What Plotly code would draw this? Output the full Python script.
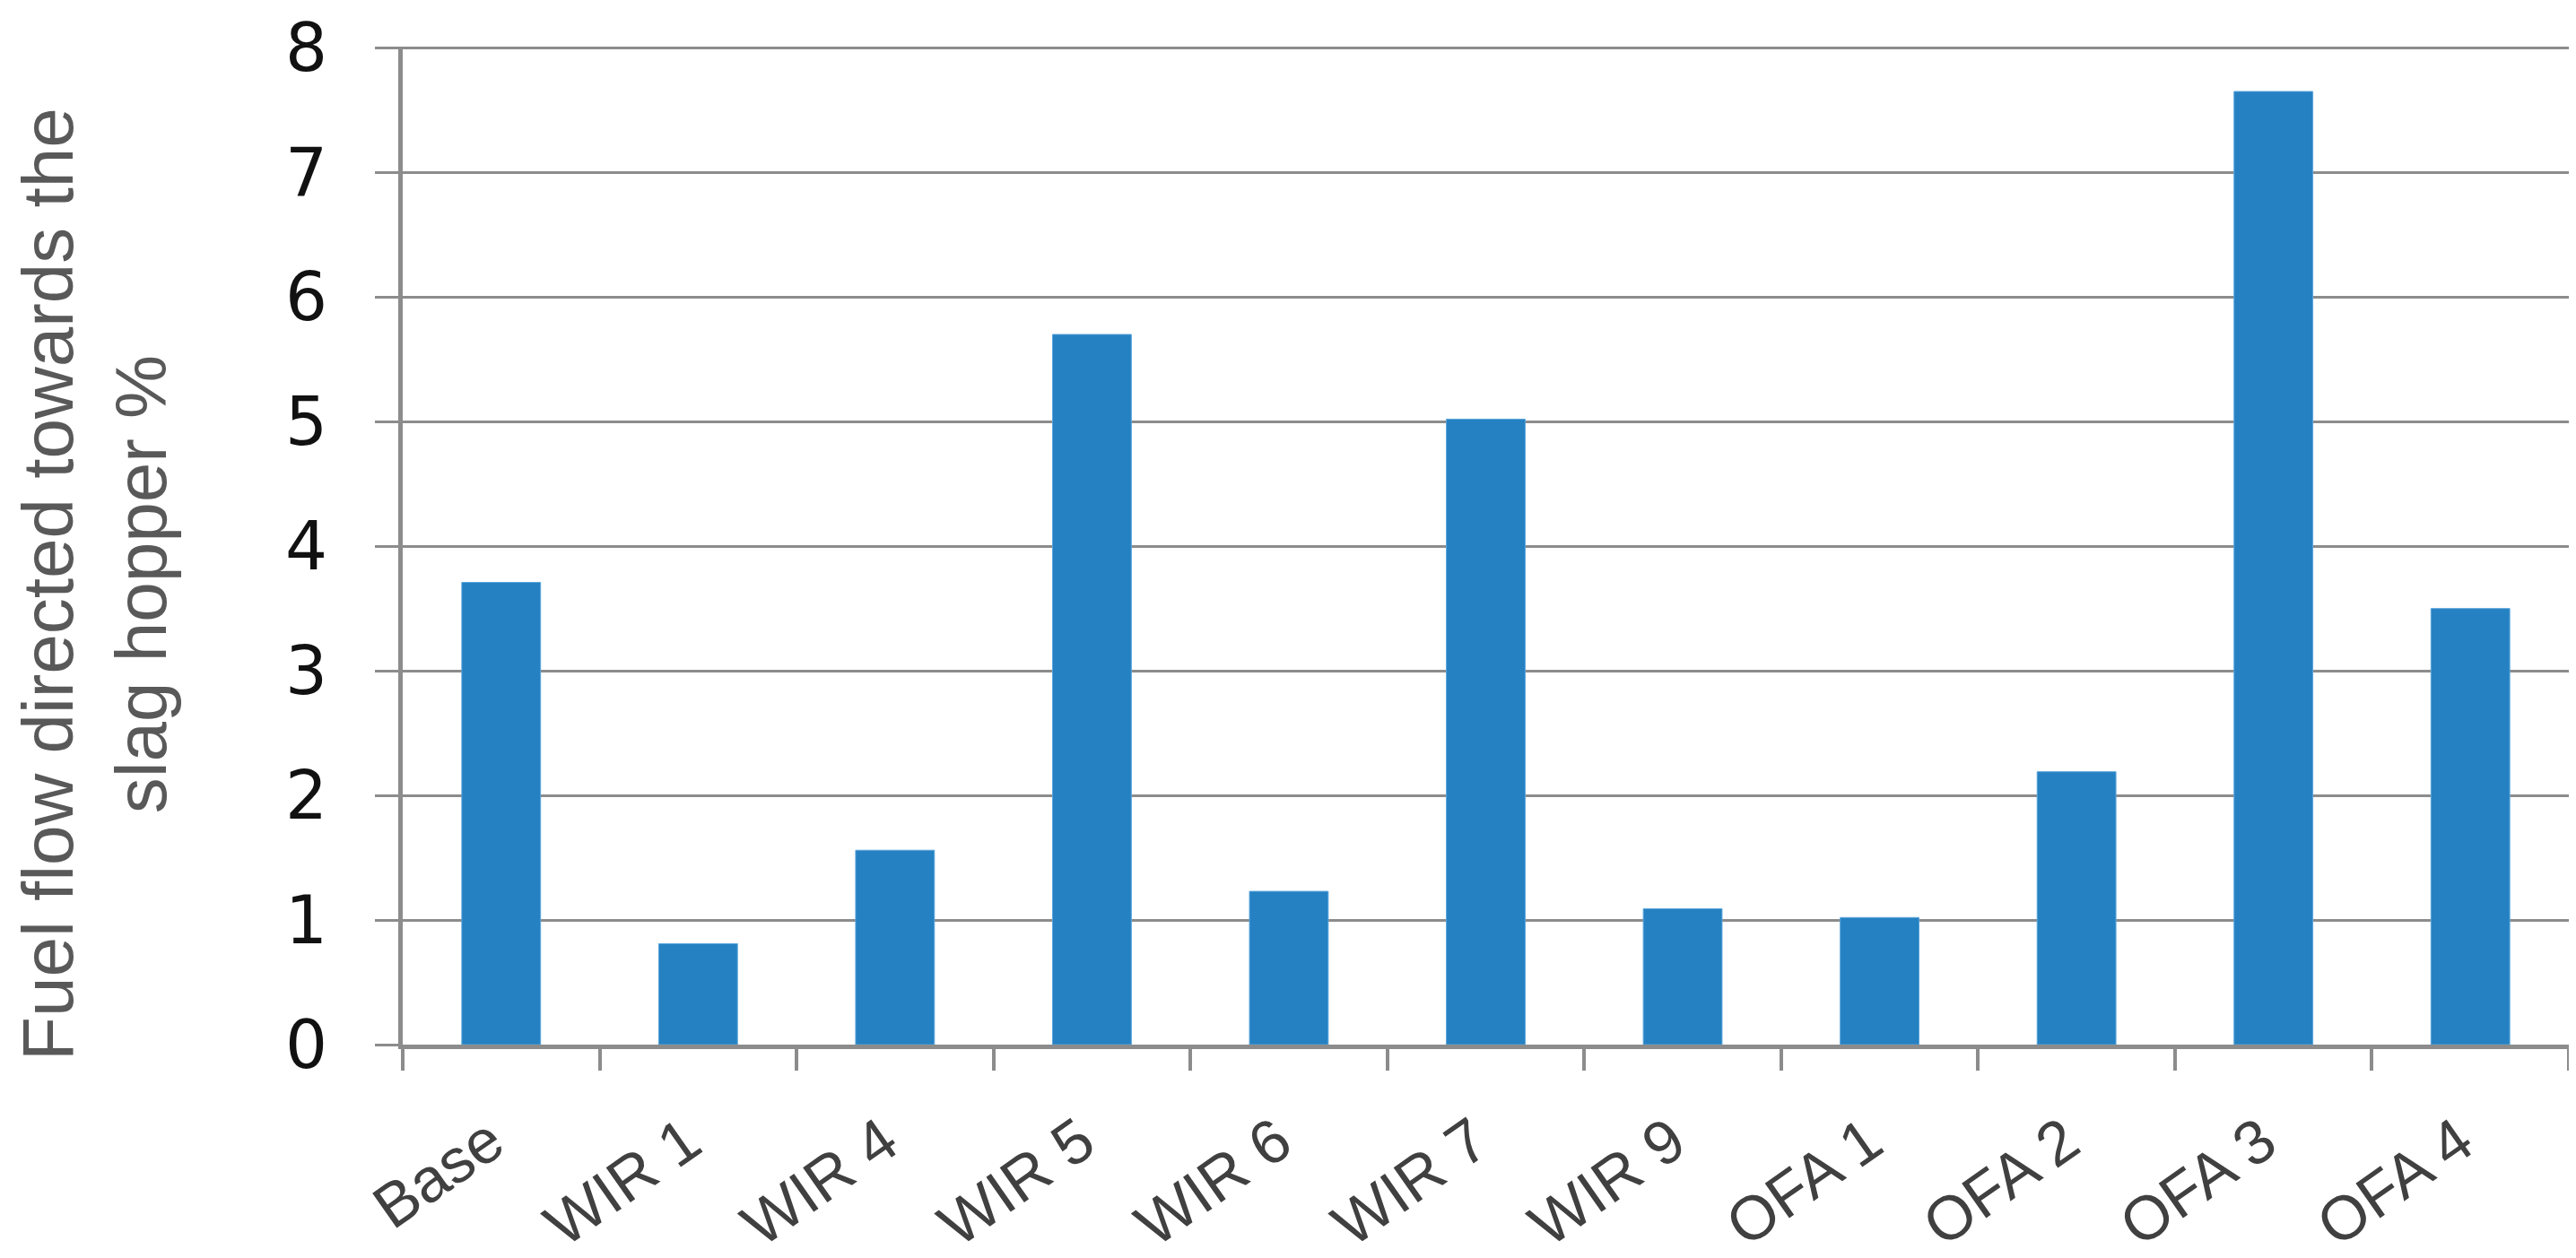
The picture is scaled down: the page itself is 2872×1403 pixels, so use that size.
import plotly.graph_objects as go

categories = ["Base", "WIR 1", "WIR 4", "WIR 5", "WIR 6", "WIR 7", "WIR 9",
              "OFA 1", "OFA 2", "OFA 3", "OFA 4"]
fuel_flow_pct = [3.71, 0.81, 1.56, 5.70, 1.23, 5.02, 1.09, 1.02, 2.19, 7.65, 3.50]
y_ticks = [0, 1, 2, 3, 4, 5, 6, 7, 8]
y_title = "Fuel flow directed towards the<br>slag hopper %"

FONT = "Liberation Sans"
GRID = "#8c8c8c"

fig = go.Figure()
fig.add_trace(go.Bar(
    x=categories,
    y=fuel_flow_pct,
    marker=dict(color="#2581c1", line=dict(color="#5aa5dc", width=1)),
    width=0.4,
))

fig.update_layout(
    width=2872,
    height=1403,
    margin=dict(l=441, r=16, t=44, b=246),
    paper_bgcolor="white",
    plot_bgcolor="white",
    showlegend=False,
    font=dict(family=FONT, color="#404040"),
    annotations=[dict(
        text=y_title,
        xref="paper", yref="paper",
        x=-0.1422, y=0.4615,
        xanchor="center", yanchor="middle",
        textangle=-90,
        showarrow=False,
        font=dict(family=FONT, size=80, color="#595959"),
    )],
)

fig.update_xaxes(
    type="category",
    automargin=False,
    showline=True, linecolor=GRID, linewidth=5,
    showgrid=False,
    ticks="outside", tickson="boundaries", ticklen=24, tickwidth=4, tickcolor=GRID,
    tickangle=-35,
    ticklabelstandoff=36,
    ticklabelshift=-12,
    tickfont=dict(family=FONT, size=69, color="#404040"),
)

fig.update_yaxes(
    range=[0, 8.01],
    automargin=False,
    tickvals=y_ticks,
    showline=True, linecolor=GRID, linewidth=5,
    showgrid=True, gridcolor=GRID, gridwidth=3,
    zeroline=False,
    ticks="outside", ticklen=26, tickwidth=3, tickcolor=GRID,
    ticklabelstandoff=38,
    ticklabeloverflow="allow",
    tickfont=dict(family="DejaVu Sans", size=74, color="#111111"),
)

fig.write_html("out.html")
